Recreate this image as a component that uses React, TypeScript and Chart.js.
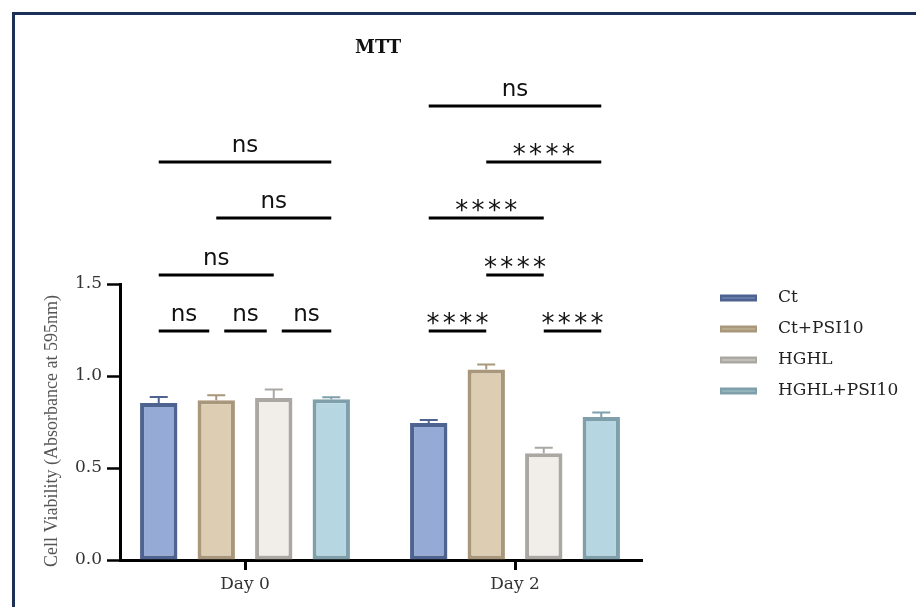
import React, { useEffect, useRef } from 'react';
import { Chart, registerables } from 'chart.js';

Chart.register(...registerables);

// ---- data ----
const categories = ['Day 0', 'Day 2'];
const seriesNames = ['Ct', 'Ct+PSI10', 'HGHL', 'HGHL+PSI10'];
const ctValues = [0.853, 0.745];
const ctPsiValues = [0.868, 1.035];
const hghlValues = [0.88, 0.58];
const hghlPsiValues = [0.873, 0.777];
const ctErrors = [0.033, 0.016];
const ctPsiErrors = [0.028, 0.028];
const hghlErrors = [0.046, 0.03];
const hghlPsiErrors = [0.012, 0.024];
const yTickValues = [0, 0.5, 1.0, 1.5];
const bracketLevels = [1.245, 1.55, 1.858, 2.163, 2.467];
const comparisonGroups = [0, 0, 0, 0, 0, 0, 1, 1, 1, 1, 1, 1];
const comparisonFrom = [0, 1, 2, 0, 1, 0, 0, 2, 1, 0, 1, 0];
const comparisonTo = [1, 2, 3, 2, 3, 3, 1, 3, 2, 2, 3, 3];
const comparisonLevel = [0, 0, 0, 1, 2, 3, 0, 0, 1, 2, 3, 4];
const comparisonLabel = ['ns', 'ns', 'ns', 'ns', 'ns', 'ns', '****', '****', '****', '****', '****', 'ns'];

const allValues = [ctValues, ctPsiValues, hghlValues, hghlPsiValues];
const allErrors = [ctErrors, ctPsiErrors, hghlErrors, hghlPsiErrors];

// ---- styles ----
const fillColors = ['#95aad5', '#dccdb3', '#f1eeea', '#b6d7e2'];
const borderColors = ['#4f6391', '#a8977b', '#aba8a4', '#7f9fab'];
const SERIF = '"DejaVu Serif", serif';
const SANS = '"DejaVu Sans", sans-serif';

const errorBarPlugin = {
  id: 'errorBars',
  afterDatasetsDraw(chart: any) {
    const ctx = chart.ctx;
    const ys = chart.scales.y;
    ctx.save();
    allValues.forEach((vals, di) => {
      const meta = chart.getDatasetMeta(di);
      meta.data.forEach((el: any, j: number) => {
        const top = ys.getPixelForValue(vals[j] + allErrors[di][j]);
        ctx.strokeStyle = borderColors[di];
        ctx.lineWidth = 2;
        ctx.beginPath();
        ctx.moveTo(el.x, el.y);
        ctx.lineTo(el.x, top);
        ctx.moveTo(el.x - 9, top);
        ctx.lineTo(el.x + 9, top);
        ctx.stroke();
      });
    });
    ctx.restore();
  },
};

const decorPlugin = {
  id: 'decor',
  afterDraw(chart: any) {
    const ctx = chart.ctx;
    const ys = chart.scales.y;
    ctx.save();
    // significance brackets
    comparisonGroups.forEach((g, k) => {
      const a = comparisonFrom[k];
      const b = comparisonTo[k];
      const lv = comparisonLevel[k];
      const xa = chart.getDatasetMeta(a).data[g].x;
      const xb = chart.getDatasetMeta(b).data[g].x;
      let sharedA = false;
      let sharedB = false;
      comparisonGroups.forEach((g2, m) => {
        if (m === k || g2 !== g || comparisonLevel[m] !== lv) return;
        if (comparisonTo[m] === a) sharedA = true;
        if (comparisonFrom[m] === b) sharedB = true;
      });
      const x1 = xa + (sharedA ? 8 : 0);
      const x2 = xb - (sharedB ? 7 : 0);
      const py = Math.round(ys.getPixelForValue(bracketLevels[lv]));
      ctx.strokeStyle = '#000';
      ctx.lineWidth = 3;
      ctx.beginPath();
      ctx.moveTo(x1, py);
      ctx.lineTo(x2, py);
      ctx.stroke();
      const mid = (x1 + x2) / 2;
      ctx.fillStyle = '#111';
      const label = comparisonLabel[k];
      ctx.textAlign = 'center';
      ctx.textBaseline = 'alphabetic';
      if (label === 'ns') {
        ctx.font = `23px ${SANS}`;
        ctx.fillText(label, mid, py - 10);
      } else {
        ctx.font = `26px ${SANS}`;
        const m = ctx.measureText('*');
        const inkCenter = (m.actualBoundingBoxAscent - m.actualBoundingBoxDescent) / 2;
        const baseY = py - 13 + inkCenter;
        const n = label.length;
        for (let i = 0; i < n; i++) {
          ctx.fillText('*', mid + (i - (n - 1) / 2) * 16.3, baseY);
        }
      }
    });
    // title
    ctx.fillStyle = '#111';
    ctx.font = `bold 18px ${SERIF}`;
    ctx.textAlign = 'center';
    ctx.textBaseline = 'middle';
    ctx.fillText('MTT', 378, 48);
    // y axis title
    ctx.save();
    ctx.translate(52, 431);
    ctx.rotate(-Math.PI / 2);
    ctx.fillStyle = '#555';
    ctx.font = `18px "Liberation Serif", serif`;
    ctx.textAlign = 'center';
    ctx.textBaseline = 'middle';
    ctx.fillText('Cell Viability (Absorbance at 595nm)', 0, 0);
    ctx.restore();
    // legend
    seriesNames.forEach((name, i) => {
      const cy = 298 + i * 31;
      ctx.fillStyle = borderColors[i];
      ctx.fillRect(720, cy - 3.5, 37, 7);
      ctx.fillStyle = fillColors[i];
      ctx.globalAlpha = 0.35;
      ctx.fillRect(722, cy - 1, 33, 2);
      ctx.globalAlpha = 1;
      ctx.fillStyle = '#222';
      ctx.font = `17px ${SERIF}`;
      ctx.textAlign = 'left';
      ctx.textBaseline = 'middle';
      ctx.fillText(name, 778, cy);
    });
    ctx.restore();
  },
};

export default function App() {
  const canvasRef = useRef<HTMLCanvasElement | null>(null);

  useEffect(() => {
    document.body.style.margin = '0';
    const canvas = canvasRef.current;
    if (!canvas) return;
    const chart = new Chart(canvas, {
      type: 'bar',
      data: {
        datasets: seriesNames.map((name, i) => ({
          label: name,
          data: allValues[i].map((v, j) => ({ x: j, y: v })),
          backgroundColor: fillColors[i],
          borderColor: borderColors[i],
          borderWidth: 4,
          borderSkipped: false,
          categoryPercentage: 0.852,
          barPercentage: 0.65,
        })),
      },
      options: {
        responsive: false,
        animation: false,
        devicePixelRatio: 1,
        layout: { padding: { left: 0, top: 284, right: 274, bottom: 0 } },
        plugins: {
          legend: { display: false },
          title: { display: false },
          tooltip: { enabled: false },
        },
        scales: {
          x: {
            type: 'linear',
            offset: false,
            min: -125 / 270,
            max: 1 + 127 / 270,
            afterBuildTicks: (scale: any) => {
              scale.ticks = categories.map((_, i) => ({ value: i }));
            },
            afterFit: (scale: any) => {
              scale.height = 47;
            },
            ticks: {
              autoSkip: false,
              maxRotation: 0,
              padding: 4,
              color: '#333',
              font: { family: '"DejaVu Serif", serif', size: 17 },
              callback: (v: any) => categories[Math.round(Number(v))] ?? '',
            },
            grid: {
              drawOnChartArea: false,
              offset: false,
              tickLength: 10,
              tickWidth: 3,
              tickColor: '#000',
            },
            border: { display: true, color: '#000', width: 3 },
          },
          y: {
            min: 0,
            max: 1.5,
            afterBuildTicks: (scale: any) => {
              scale.ticks = yTickValues.map((v) => ({ value: v }));
            },
            afterFit: (scale: any) => {
              scale.width = 120;
            },
            ticks: {
              padding: 5,
              color: '#333',
              font: { family: '"DejaVu Serif", serif', size: 17 },
              callback: (v: any) => Number(v).toFixed(1),
            },
            grid: {
              drawOnChartArea: false,
              tickLength: 13,
              tickWidth: 2.5,
              tickColor: '#000',
            },
            border: { display: true, color: '#000', width: 3 },
          },
        },
      },
      plugins: [errorBarPlugin, decorPlugin],
    } as any);
    return () => chart.destroy();
  }, []);

  return (
    <div style={{ position: 'relative', width: 916, height: 607, overflow: 'hidden', background: '#fff' }}>
      <div
        style={{
          position: 'absolute',
          left: 12,
          top: 12,
          width: 1000,
          height: 1000,
          border: '3px solid #1c2f57',
          boxSizing: 'border-box',
        }}
      />
      <canvas
        ref={canvasRef}
        width={916}
        height={607}
        style={{ position: 'absolute', left: 0, top: 0, width: 916, height: 607 }}
      />
    </div>
  );
}
